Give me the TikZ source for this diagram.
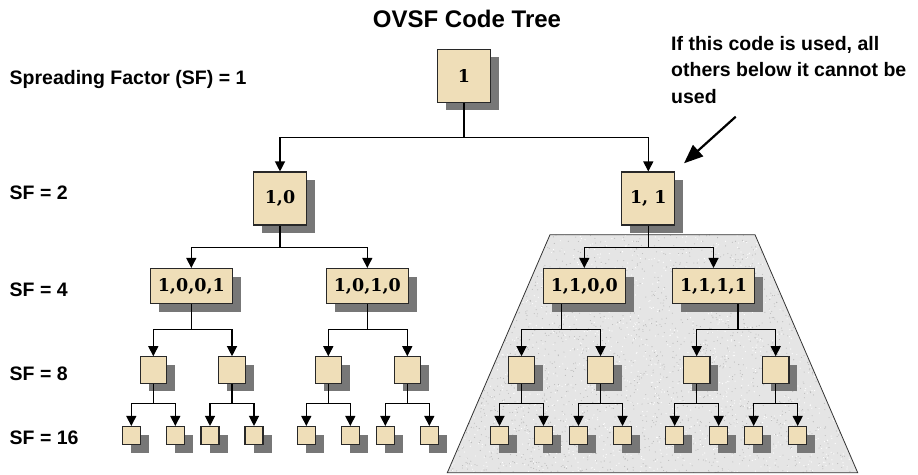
\documentclass[tikz,border=0pt]{standalone}
\usepackage{fontspec}
\newfontfamily\labelfont{Liberation Sans}
\newfontfamily\codeface{DejaVu Serif}
\usetikzlibrary{arrows.meta,shadows}
\definecolor{parch}{RGB}{239,222,184}
\definecolor{boxline}{RGB}{40,40,40}
\definecolor{shade}{RGB}{119,119,119}
\definecolor{slab}{RGB}{229,229,229}

\begin{document}
\begin{tikzpicture}[x=1pt,y=-1pt,
  code/.style={draw=boxline, line width=1.1pt, fill=parch, inner sep=0pt,
    drop shadow={shadow xshift=8.5pt, shadow yshift=-8pt, fill=shade, opacity=1}},
  codefont/.style={font=\codeface\bfseries\fontsize{17.5}{21}\selectfont},
  c1/.style={code, codefont, minimum width=53pt, minimum height=53pt},
  c4/.style={code, codefont, minimum width=82pt, minimum height=35pt},
  c8/.style={code, minimum size=26.5pt},
  c16/.style={code, minimum size=18pt},
  link/.style={line width=1.2pt, -{Triangle[length=10pt,width=10pt]}},
  lbl/.style={font=\labelfont\bfseries\fontsize{19.5}{22}\selectfont, anchor=base west, inner sep=0pt}
]
\useasboundingbox (0,0) rectangle (918,474);

% shaded region holding the blocked sub-tree
\fill[slab] (550,234.7) -- (755,234.7) -- (857.7,472.7) -- (447.3,472.7) -- cycle;
\begin{scope}
  \clip (550,234.7) -- (755,234.7) -- (857.7,472.7) -- (447.3,472.7) -- cycle;
  \pgfmathsetseed{42}
  \foreach \k in {1,...,2200} {\fill[black!27] ({447+411*rnd},{234+239*rnd}) circle (0.55);}
  \foreach \k in {1,...,1600} {\fill[white] ({447+411*rnd},{234+239*rnd}) circle (0.6);}
\end{scope}
\draw[black!80, line width=0.8pt] (550,234.7) -- (755,234.7) -- (857.7,472.7) -- (447.3,472.7) -- cycle;

% titles and level labels
\node[anchor=base, inner sep=0pt, font=\labelfont\bfseries\fontsize{24}{28}\selectfont] (title) at (467,27.7) {OVSF Code Tree};
\node[lbl] (sf1) at (9.5,84) {Spreading Factor (SF) = 1};
\node[lbl] (sf2) at (9.5,199.3) {SF = 2};
\node[lbl] (sf4) at (9.5,296) {SF = 4};
\node[lbl] (sf8) at (9.5,380) {SF = 8};
\node[lbl] (sf16) at (9.5,444.3) {SF = 16};
\node[lbl] (note1) at (671,50.7) {If this code is used, all};
\node[lbl] (note2) at (671,76) {others below it cannot be};
\node[lbl] (note3) at (671,103.3) {used};

% code nodes
\node[c1] (r) at (464,75.8) {1};
\node[c1] (a) at (280,198.5) {1,0};
\node[c1] (b) at (648.3,198.5) {1, 1};
\node[c4] (aa) at (191.3,286) {1,0,0,1};
\node[c4] (ab) at (367.3,286) {1,0,1,0};
\node[c4] (ba) at (584.3,286) {1,1,0,0};
\node[c4] (bb) at (713.5,286) {1,1,1,1};
\foreach \x [count=\i] in {153.3,232,328.3,407.3,521.5,600.5,696.7,775.7} {
  \node[c8] (e\i) at (\x,370) {};
  \node[c16] (s\i a) at ({\x-22},435.5) {};
  \node[c16] (s\i b) at ({\x+22},435.5) {};
}

% stems leaving the SF = 4 codes
\coordinate (aas) at (aa.south);
\coordinate (abs) at (ab.south);
\coordinate (bas) at ([xshift=-23pt]ba.south);
\coordinate (bbs) at ([xshift=24.5pt]bb.south);

% connectors
\draw[link] (r.south) -- ++(0,34.4) -| (a.north);
\draw[link] (r.south) -- ++(0,34.4) -| (b.north);
\foreach \p/\c in {a/aa, a/ab, b/ba, b/bb}
  \draw[link] (\p.south) -- ++(0,21.7) -| (\c.north);
\foreach \p/\i/\j in {aas/1/2, abs/3/4, bas/5/6, bbs/7/8} {
  \draw[link] (\p) -- ++(0,25.8) -| (e\i.north);
  \draw[link] (\p) -- ++(0,25.8) -| (e\j.north);
}
\foreach \i in {1,...,8} {
  \draw[link] (e\i.south) -- ++(0,20) -| (s\i a.north);
  \draw[link] (e\i.south) -- ++(0,20) -| (s\i b.north);
}

% pointer to the blocked code
\coordinate (tail) at (735.7,116.7);
\coordinate (tip) at (684,163.3);
\draw[line width=2.2pt, -{Triangle[length=19pt,width=15pt]}] (tail) -- (tip);
\end{tikzpicture}
\end{document}
